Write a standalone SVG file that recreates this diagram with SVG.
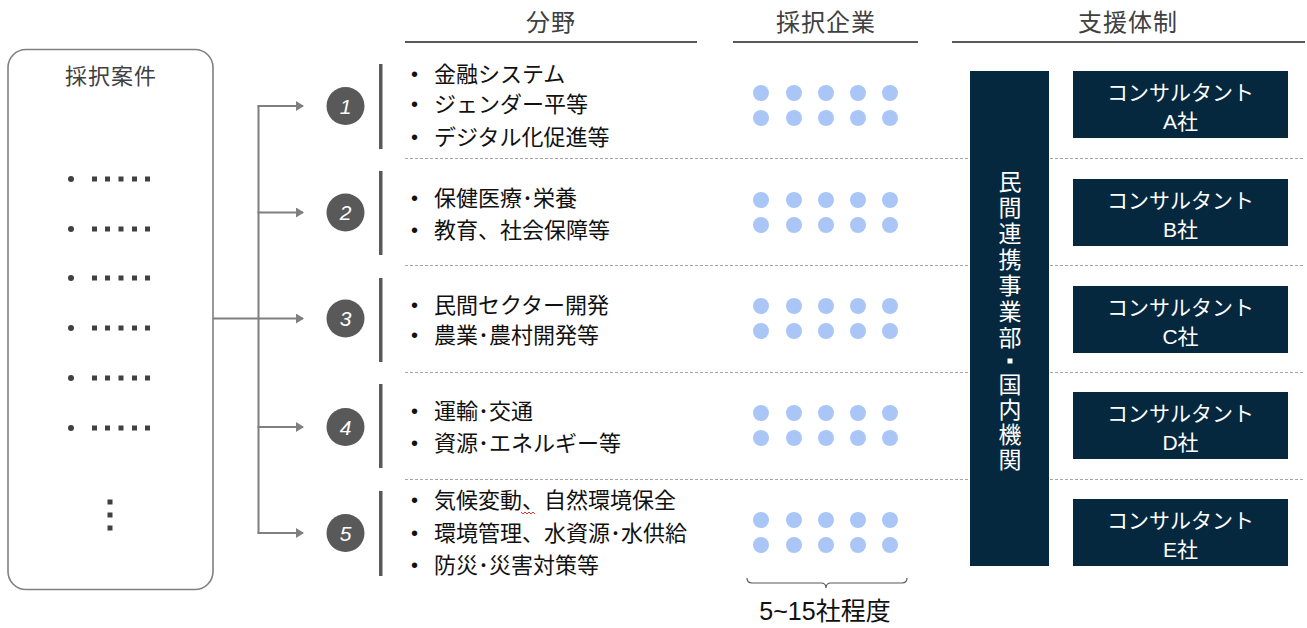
<svg xmlns="http://www.w3.org/2000/svg" width="1307" height="628" viewBox="0 0 1307 628">
<style>
text{font-family:"Liberation Sans","Noto Sans CJK JP",sans-serif;}
.hd{font-size:24px;fill:#404040;text-anchor:middle;letter-spacing:1px;}
.hl{stroke:#595959;stroke-width:2;}
.li{font-size:22px;fill:#111;}
.bl{font-size:20px;fill:#111;}
.sep{stroke:#a6a6a6;stroke-width:1;stroke-dasharray:3 2;}
.bar{fill:#595959;}
.num{font-size:21px;fill:#fff;font-style:italic;text-anchor:middle;}
.dot{fill:#a9c6f7;}
.dk{fill:#06283f;}
.wt{font-size:21px;fill:#fff;text-anchor:middle;}
.vt{font-size:23px;fill:#fff;text-anchor:middle;}
.conn{stroke:#7f7f7f;stroke-width:2;fill:none;}
.bd{fill:#404040;}
</style>
<defs>
<marker id="ah" markerWidth="8" markerHeight="10" refX="7" refY="5" orient="auto" markerUnits="userSpaceOnUse">
<path d="M0,0 L8,5 L0,10 Z" fill="#7f7f7f"/>
</marker>
<g id="dots5">
<circle class="dot" cx="761" cy="0" r="8"/><circle class="dot" cx="794" cy="0" r="8"/><circle class="dot" cx="826" cy="0" r="8"/><circle class="dot" cx="858" cy="0" r="8"/><circle class="dot" cx="890" cy="0" r="8"/>
</g>
<g id="ellrow">
<circle class="bd" cx="71" cy="0" r="3"/>
<rect class="bd" x="92" y="-2.5" width="5" height="5"/><rect class="bd" x="105" y="-2.5" width="5" height="5"/><rect class="bd" x="118.5" y="-2.5" width="5" height="5"/><rect class="bd" x="132" y="-2.5" width="5" height="5"/><rect class="bd" x="145" y="-2.5" width="5" height="5"/>
</g>
</defs>
<rect width="1307" height="628" fill="#fff"/>

<!-- headers -->
<g id="headers">
<text class="hd" x="551" y="31">分野</text>
<line class="hl" x1="405" y1="42" x2="697" y2="42"/>
<text class="hd" x="826" y="31">採択企業</text>
<line class="hl" x1="733" y1="42" x2="918" y2="42"/>
<text class="hd" x="1128" y="31">支援体制</text>
<line class="hl" x1="952" y1="42" x2="1305" y2="42"/>
</g>

<!-- separators -->
<g id="separators">
<line class="sep" x1="405" y1="158.5" x2="1305" y2="158.5"/>
<line class="sep" x1="405" y1="265.5" x2="1305" y2="265.5"/>
<line class="sep" x1="405" y1="372.5" x2="1305" y2="372.5"/>
<line class="sep" x1="405" y1="479.5" x2="1305" y2="479.5"/>
</g>

<!-- left box -->
<g id="cases">
<rect x="8" y="49.5" width="205" height="540" rx="18" fill="#fff" stroke="#808080" stroke-width="1.6"/>
<text x="111" y="84" font-size="22" fill="#404040" text-anchor="middle" letter-spacing="1">採択案件</text>
<use href="#ellrow" y="179"/>
<use href="#ellrow" y="229"/>
<use href="#ellrow" y="278"/>
<use href="#ellrow" y="328"/>
<use href="#ellrow" y="378"/>
<use href="#ellrow" y="428"/>
<rect class="bd" x="107.5" y="499.5" width="5" height="5"/>
<rect class="bd" x="107.5" y="512.5" width="5" height="5"/>
<rect class="bd" x="107.5" y="525.5" width="5" height="5"/>
</g>

<!-- connectors -->
<g id="connectors">
<line class="conn" x1="213" y1="318.5" x2="303" y2="318.5" marker-end="url(#ah)"/>
<line class="conn" x1="258.5" y1="105.5" x2="258.5" y2="533.5"/>
<line class="conn" x1="257.5" y1="106" x2="303" y2="106" marker-end="url(#ah)"/>
<line class="conn" x1="257.5" y1="212.5" x2="303" y2="212.5" marker-end="url(#ah)"/>
<line class="conn" x1="257.5" y1="427" x2="303" y2="427" marker-end="url(#ah)"/>
<line class="conn" x1="257.5" y1="533" x2="303" y2="533" marker-end="url(#ah)"/>
</g>

<!-- field 1 -->
<g id="field1">
<circle cx="345.5" cy="106" r="19" fill="#595959"/>
<text class="num" x="345.5" y="113.5">1</text>
<rect class="bar" x="379" y="64" width="3.5" height="85"/>
<text class="bl" x="411" y="81">•</text><text class="li" x="434" y="82">金融システム</text>
<text class="bl" x="411" y="111">•</text><text class="li" x="434" y="112">ジェンダー平等</text>
<text class="bl" x="411" y="144">•</text><text class="li" x="434" y="145">デジタル化促進等</text>
<use href="#dots5" y="93"/><use href="#dots5" y="118"/>
</g>
<!-- field 2 -->
<g id="field2">
<circle cx="345.5" cy="212.5" r="19" fill="#595959"/>
<text class="num" x="345.5" y="220">2</text>
<rect class="bar" x="379" y="171" width="3.5" height="84"/>
<text class="bl" x="411" y="205">•</text><text class="li" x="434" y="206">保健医療･栄養</text>
<text class="bl" x="411" y="237">•</text><text class="li" x="434" y="238">教育、社会保障等</text>
<use href="#dots5" y="200"/><use href="#dots5" y="225"/>
</g>
<!-- field 3 -->
<g id="field3">
<circle cx="345.5" cy="318.5" r="19" fill="#595959"/>
<text class="num" x="345.5" y="326">3</text>
<rect class="bar" x="379" y="278" width="3.5" height="84"/>
<text class="bl" x="411" y="312">•</text><text class="li" x="434" y="313">民間セクター開発</text>
<text class="bl" x="411" y="342">•</text><text class="li" x="434" y="343">農業･農村開発等</text>
<use href="#dots5" y="306"/><use href="#dots5" y="331"/>
</g>
<!-- field 4 -->
<g id="field4">
<circle cx="345.5" cy="427" r="19" fill="#595959"/>
<text class="num" x="345.5" y="434.5">4</text>
<rect class="bar" x="379" y="384" width="3.5" height="84"/>
<text class="bl" x="411" y="418">•</text><text class="li" x="434" y="419">運輸･交通</text>
<text class="bl" x="411" y="450">•</text><text class="li" x="434" y="451">資源･エネルギー等</text>
<use href="#dots5" y="413"/><use href="#dots5" y="438"/>
</g>
<!-- field 5 -->
<g id="field5">
<circle cx="345.5" cy="533" r="19" fill="#595959"/>
<text class="num" x="345.5" y="540.5">5</text>
<rect class="bar" x="379" y="491" width="3.5" height="85"/>
<text class="bl" x="411" y="507">•</text><text class="li" x="434" y="508">気候変動、自然環境保全</text>
<path d="M521,512 l2,2 l2,-2 l2,2 l2,-2 l2,2 l2,-2 l2,2" fill="none" stroke="#e03030" stroke-width="1"/>
<text class="bl" x="411" y="540">•</text><text class="li" x="434" y="541">環境管理、水資源･水供給</text>
<text class="bl" x="411" y="572">•</text><text class="li" x="434" y="573">防災･災害対策等</text>
<use href="#dots5" y="520"/><use href="#dots5" y="545"/>
</g>

<!-- brace -->
<g id="count">
<path d="M747,578 Q747,583 752,583 L821,583 Q826,583 826,588 Q826,583 831,583 L902,583 Q907,583 907,578" fill="none" stroke="#595959" stroke-width="1.2"/>
<text x="825" y="620" font-size="25" fill="#111" text-anchor="middle">5~15社程度</text>
</g>

<!-- support -->
<g id="jica">
<rect class="dk" x="970" y="71" width="79" height="495"/>
<text class="vt" x="1010" y="190">民</text>
<text class="vt" x="1010" y="216">間</text>
<text class="vt" x="1010" y="242">連</text>
<text class="vt" x="1010" y="268">携</text>
<text class="vt" x="1010" y="294">事</text>
<text class="vt" x="1010" y="320">業</text>
<text class="vt" x="1010" y="346">部</text>
<rect x="1007.5" y="358.5" width="5" height="5" fill="#fff"/>
<text class="vt" x="1010" y="393">国</text>
<text class="vt" x="1010" y="418">内</text>
<text class="vt" x="1010" y="443">機</text>
<text class="vt" x="1010" y="468">関</text>
</g>
<g id="consA"><rect class="dk" x="1073" y="71" width="215" height="67"/><text class="wt" x="1180.5" y="100">コンサルタント</text><text class="wt" x="1180.5" y="129">A社</text></g>
<g id="consB"><rect class="dk" x="1073" y="179" width="215" height="67"/><text class="wt" x="1180.5" y="208">コンサルタント</text><text class="wt" x="1180.5" y="237">B社</text></g>
<g id="consC"><rect class="dk" x="1073" y="286" width="215" height="67"/><text class="wt" x="1180.5" y="315">コンサルタント</text><text class="wt" x="1180.5" y="344">C社</text></g>
<g id="consD"><rect class="dk" x="1073" y="392" width="215" height="67"/><text class="wt" x="1180.5" y="421">コンサルタント</text><text class="wt" x="1180.5" y="450">D社</text></g>
<g id="consE"><rect class="dk" x="1073" y="499" width="215" height="67"/><text class="wt" x="1180.5" y="528">コンサルタント</text><text class="wt" x="1180.5" y="557">E社</text></g>
</svg>
